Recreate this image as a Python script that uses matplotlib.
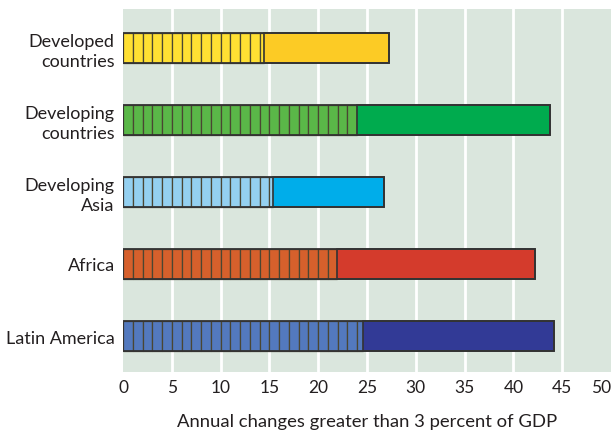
import numpy as np
import matplotlib
matplotlib.use("Agg")
import matplotlib.pyplot as plt

# regions, top to bottom
regions = ["Developed\ncountries", "Developing\ncountries", "Developing\nAsia", "Africa", "Latin America"]
# striped part and full bar length
striped = [14.4, 24.0, 15.4, 21.9, 24.6]
totals = [27.3, 43.8, 26.7, 42.2, 44.2]

light_colors = ["#ffe033", "#5ab848", "#94d0f0", "#d6602c", "#5379be"]
dark_colors = ["#fccb25", "#00ab4e", "#00adea", "#d43b2c", "#323a96"]

plt.rcParams["font.family"] = ["Lato", "DejaVu Sans"]

fig = plt.figure(figsize=(6.16, 4.39), dpi=100)
ax = fig.add_axes([0.1997, 0.1503, 0.7922, 0.8269])
ax.set_facecolor("#dae6dd")

h = 0.42
for i, (s, t) in enumerate(zip(striped, totals)):
    # one cell per unit in the striped section
    lefts = np.arange(0, s, 1.0)
    widths = np.minimum(1.0, s - lefts)
    ax.barh([i] * len(lefts), widths, left=lefts, height=h, color=light_colors[i],
            edgecolor="#4a4632", linewidth=0.9, zorder=3)
    ax.barh(i, t - s, left=s, height=h, color=dark_colors[i],
            edgecolor="#333333", linewidth=1.2, zorder=3)
    # outline around the whole bar
    ax.barh(i, t, left=0, height=h, color="none", edgecolor="#333333",
            linewidth=1.3, zorder=4)

ax.set_xlim(0, 50)
ax.set_ylim(4.5, -0.54)
ax.set_xticks(np.arange(0, 51, 5))
ax.set_yticks(range(len(regions)))
ax.set_yticklabels(regions, fontsize=13, color="#231f20", linespacing=1.3,
                   multialignment="right")
ax.tick_params(axis="x", labelsize=12.5, colors="#231f20", length=0, pad=5)
ax.tick_params(axis="y", length=0, pad=6)
# keep the last x label inside the figure
ax.get_xticklabels()[-1].set_horizontalalignment("right")
for x in range(5, 50, 5):
    ax.axvline(x, color="white", linewidth=2, zorder=1)
for sp in ax.spines.values():
    sp.set_visible(False)

ax.set_xlabel("Annual changes greater than 3 percent of GDP", fontsize=13.3,
              color="#231f20", labelpad=13)

fig.savefig("out.png", dpi=100)
